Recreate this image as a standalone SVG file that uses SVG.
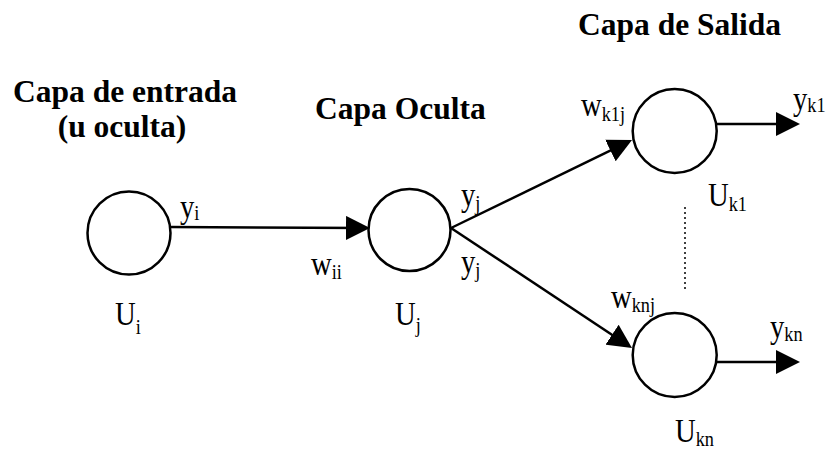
<svg xmlns="http://www.w3.org/2000/svg" width="833" height="451" viewBox="0 0 833 451">
  <style>
    .head { font-weight: bold; font-size: 31.5px; fill: #000; }
    .lbl { font-size: 33px; fill: #000; }
    .sub { font-size: 21px; }
    .unit { fill: #fff; stroke: #000; stroke-width: 2.5; }
    .link { stroke: #000; stroke-width: 2.5; fill: none; }
    .dots { stroke: #000; stroke-width: 1.5; stroke-dasharray: 2 3; fill: none; }
  </style>
  <defs>
    <marker id="arrow" markerUnits="userSpaceOnUse" markerWidth="24" markerHeight="24" refX="18" refY="12" orient="auto">
      <path d="M0,0 L24,12 L0,24 Z" fill="#000"/>
    </marker>
  </defs>
  <rect width="833" height="451" fill="#fff"/>

  <g font-family="'Liberation Serif', 'DejaVu Serif', serif">
  <!-- layer titles -->
  <text class="head" x="125" y="102" text-anchor="middle">Capa de entrada</text>
  <text class="head" x="122" y="137" text-anchor="middle">(u oculta)</text>
  <text class="head" x="315" y="119">Capa Oculta</text>
  <text class="head" x="578" y="35">Capa de Salida</text>

  <!-- connectors -->
  <g id="connectors">
    <line class="link" x1="170" y1="227" x2="364" y2="228" marker-end="url(#arrow)"/>
    <line class="link" x1="451" y1="228" x2="626.6" y2="142.6" marker-end="url(#arrow)"/>
    <line class="link" x1="451" y1="228" x2="627" y2="344.7" marker-end="url(#arrow)"/>
    <line class="link" x1="716.7" y1="124" x2="794" y2="124" marker-end="url(#arrow)"/>
    <line class="link" x1="716.7" y1="362" x2="794" y2="362" marker-end="url(#arrow)"/>
    <line class="dots" x1="685" y1="207" x2="685" y2="292"/>
  </g>

  <!-- input unit -->
  <g id="node-ui">
    <circle class="unit" cx="129" cy="233" r="41.5"/>
    <text class="lbl" transform="translate(115,325) scale(0.87,1)">U<tspan class="sub" dy="9" font-size="24">i</tspan></text>
    <text class="lbl" transform="translate(180,218) scale(0.87,1)">y<tspan class="sub" dy="2">i</tspan></text>
  </g>

  <!-- hidden unit -->
  <g id="node-uj">
    <circle class="unit" cx="409.5" cy="230" r="41"/>
    <text class="lbl" transform="translate(311,275) scale(0.87,1)">w<tspan class="sub" dy="4">ii</tspan></text>
    <text class="lbl" transform="translate(395,325) scale(0.87,1)">U<tspan class="sub" dy="7" font-size="24">j</tspan></text>
    <text class="lbl" transform="translate(461,206) scale(0.87,1)">y<tspan class="sub" dy="4">j</tspan></text>
    <text class="lbl" transform="translate(461,273) scale(0.87,1)">y<tspan class="sub" dy="4">j</tspan></text>
  </g>

  <!-- first output unit -->
  <g id="node-uk1">
    <circle class="unit" cx="674.7" cy="131" r="42"/>
    <text class="lbl" transform="translate(581,116) scale(0.87,1)">w<tspan class="sub" dy="5">k1j</tspan></text>
    <text class="lbl" transform="translate(708,206) scale(0.87,1)">U<tspan class="sub" dy="5">k1</tspan></text>
    <text class="lbl" transform="translate(793,110) scale(0.87,1)">y<tspan class="sub" dy="2">k1</tspan></text>
  </g>

  <!-- last output unit -->
  <g id="node-ukn">
    <circle class="unit" cx="674.7" cy="355" r="42"/>
    <text class="lbl" transform="translate(611,308) scale(0.87,1)">w<tspan class="sub" dy="4">knj</tspan></text>
    <text class="lbl" transform="translate(770,338) scale(0.87,1)">y<tspan class="sub" dy="3">kn</tspan></text>
    <text class="lbl" transform="translate(675,442) scale(0.87,1)">U<tspan class="sub" dy="4">kn</tspan></text>
  </g>
  </g>
</svg>
